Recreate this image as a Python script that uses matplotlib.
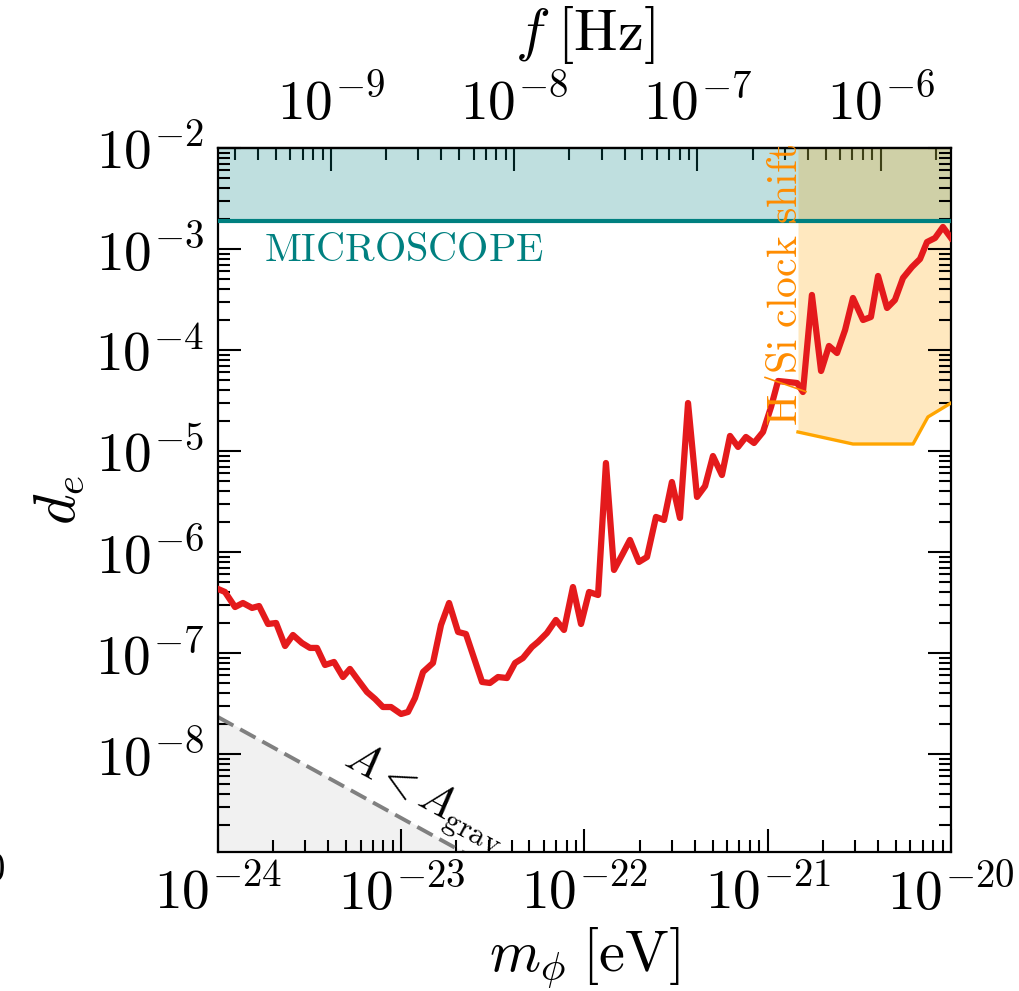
import numpy as np
import matplotlib
matplotlib.use("Agg")
import matplotlib.pyplot as plt
from matplotlib.ticker import LogLocator, NullFormatter, FuncFormatter

plt.rcParams['mathtext.fontset'] = 'cm'
plt.rcParams['font.family'] = ['DejaVu Serif']

# ---- data (log10 values) ----
log_m = [-24.000, -23.962, -23.907, -23.864, -23.814, -23.776, -23.727, -23.683,
         -23.634, -23.591, -23.542, -23.498, -23.460, -23.416, -23.367, -23.318,
         -23.280, -23.236, -23.187, -23.143, -23.100, -23.056, -23.001, -22.963,
         -22.925, -22.881, -22.827, -22.783, -22.739, -22.690, -22.647, -22.603,
         -22.559, -22.516, -22.472, -22.423, -22.379, -22.336, -22.287, -22.254,
         -22.205, -22.156, -22.112, -22.063, -22.019, -21.975, -21.926, -21.883,
         -21.839, -21.795, -21.752, -21.703, -21.659, -21.610, -21.566, -21.523,
         -21.479, -21.435, -21.386, -21.342, -21.299, -21.250, -21.206, -21.162,
         -21.119, -21.075, -21.026, -20.982, -20.944, -20.890, -20.840, -20.808,
         -20.759, -20.709, -20.666, -20.622, -20.578, -20.535, -20.480, -20.437,
         -20.398, -20.349, -20.306, -20.262, -20.213, -20.169, -20.131, -20.087,
         -20.044, -20.000]
log_de = [-6.366, -6.396, -6.545, -6.505, -6.554, -6.535, -6.713, -6.703,
          -6.931, -6.822, -6.901, -6.950, -6.950, -7.119, -7.089, -7.238,
          -7.158, -7.267, -7.386, -7.455, -7.535, -7.535, -7.604, -7.584,
          -7.446, -7.188, -7.099, -6.723, -6.505, -6.792, -6.812, -7.050,
          -7.287, -7.297, -7.238, -7.248, -7.099, -7.050, -6.941, -6.891,
          -6.802, -6.673, -6.772, -6.347, -6.713, -6.396, -6.426, -5.119,
          -6.178, -6.030, -5.881, -6.099, -6.050, -5.653, -5.683, -5.307,
          -5.663, -4.525, -5.455, -5.347, -5.050, -5.238, -4.851, -4.960,
          -4.861, -4.921, -4.812, -4.564, -4.307, -4.317, -4.327, -4.416,
          -3.455, -4.208, -3.960, -4.030, -3.802, -3.485, -3.703, -3.673,
          -3.267, -3.584, -3.505, -3.287, -3.178, -3.099, -2.931, -2.891,
          -2.782, -2.891]

# H/Si clock shift bound
clock_log_m = [-20.835, -20.535, -20.207, -20.126, -20.000]
clock_log_de = [-4.812, -4.931, -4.931, -4.663, -4.525]

# MICROSCOPE bound
microscope_de = 1.9e-3

# gravitational amplitude line: d_e = A0 * (m0/m)
grav_m = [1e-24, 1e-20]
grav_de = [2.32e-8, 2.32e-12]

xlim = (1e-24, 1e-20)
ylim = (1.07e-9, 1e-2)
eV_to_Hz = 2.418e14

m = 10 ** np.array(log_m)
de = 10 ** np.array(log_de)
cm_ = 10 ** np.array(clock_log_m)
cd_ = 10 ** np.array(clock_log_de)

fig = plt.figure(figsize=(10.2, 9.91), dpi=100)
ax = fig.add_axes([218/1020, 139/991, 733/1020, 704/991])
ax.set_xscale('log')
ax.set_yscale('log')

# fills
ax.fill_between(grav_m, grav_de, ylim[0] * 0.5, color='#f1f1f1', zorder=1)
ax.plot(grav_m, grav_de, color='gray', lw=2.8, ls=(0, (4.5, 2.0)), zorder=2)
ax.axhspan(microscope_de, ylim[1], color='teal', alpha=0.25, lw=0, zorder=1)
ax.axhline(microscope_de, color='teal', lw=3, zorder=3)
ax.fill_between(cm_, cd_, ylim[1], color='orange', alpha=0.25, lw=0, zorder=1)
ax.plot(cm_, cd_, color='orange', lw=2.4, zorder=3)
ax.plot(m, de, color='#e41a1c', lw=4.5, zorder=4)

ax.set_xlim(*xlim)
ax.set_ylim(*ylim)

fs = 40
fmt = FuncFormatter(lambda v, p: r'$10^{%d}$' % int(round(np.log10(v))))
for axis in (ax.xaxis, ax.yaxis):
    axis.set_major_locator(LogLocator(base=10, numticks=30))
    axis.set_major_formatter(fmt)
    axis.set_minor_locator(LogLocator(base=10, subs=np.arange(2, 10), numticks=300))
    axis.set_minor_formatter(NullFormatter())
ax.tick_params(which='both', direction='in', width=1.5, labelsize=fs,
               top=False, right=True, bottom=True, left=True)
ax.tick_params(which='major', length=16.5)
ax.tick_params(axis='x', which='major', pad=10)
ax.tick_params(axis='y', which='major', pad=10)
ax.tick_params(which='minor', length=8.5)
for s in ax.spines.values():
    s.set_linewidth(1.6)

sec = ax.secondary_xaxis('top', functions=(lambda x: x * eV_to_Hz, lambda f: f / eV_to_Hz))
sec.xaxis.set_major_locator(LogLocator(base=10, numticks=30))
sec.xaxis.set_major_formatter(fmt)
sec.xaxis.set_minor_locator(LogLocator(base=10, subs=np.arange(2, 10), numticks=300))
sec.xaxis.set_minor_formatter(NullFormatter())
sec.tick_params(which='both', direction='in', width=1.5, labelsize=fs)
sec.tick_params(which='major', length=16.5, pad=12)
sec.tick_params(which='minor', length=8.5)
sec.spines['top'].set_linewidth(1.6)
sec.set_xlabel(r'$f\;[\mathrm{Hz}]$', fontsize=42)
sec.xaxis.set_label_coords(0.5, (852 - 50) / 704, transform=ax.transAxes)

ax.set_xlabel(r'$m_\phi\;[\mathrm{eV}]$', fontsize=42)
ax.xaxis.set_label_coords(0.5, (852 - 925) / 704)
ax.set_ylabel(r'$d_e$', fontsize=42)
ax.yaxis.set_label_coords((87 - 218) / 733, 0.5)

ax.text(0.254, 0.855, r'$\mathrm{MICROSCOPE}$', color='teal', fontsize=29,
        ha='center', va='center', transform=ax.transAxes, zorder=5)
ax.text(0.775, 0.805, r'$\mathrm{H/Si\ clock\ shift}$', color='darkorange', fontsize=30,
        ha='center', va='center', rotation=90, transform=ax.transAxes, zorder=5)
ax.text(0.282, 0.077, r'$A < A_{\mathrm{grav}}$', color='black', fontsize=32,
        ha='center', va='center', rotation=-28.5, rotation_mode='anchor',
        transform=ax.transAxes, zorder=5)

# fragment of a neighbouring panel's tick label at the left edge
fig.text(6/1020, 1 - 860/991, r'$10^{-20}$', fontsize=fs, ha='right', va='top')

fig.savefig('out.png', dpi=100)
